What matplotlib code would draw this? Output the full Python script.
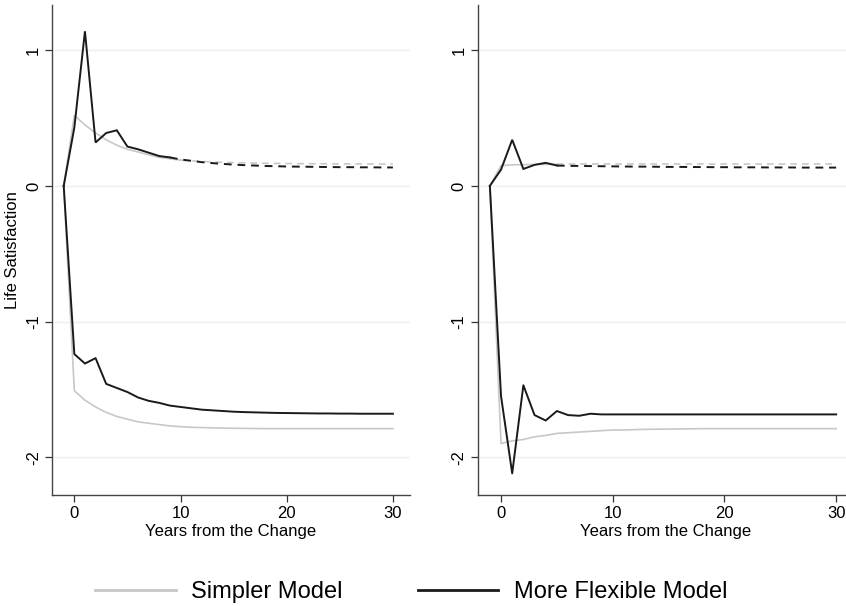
import matplotlib
matplotlib.use('Agg')
import matplotlib.pyplot as plt
from matplotlib.lines import Line2D

plt.rcParams['font.family'] = ['Liberation Sans Narrow', 'Liberation Sans', 'DejaVu Sans']

GRAY = '#c8c8c8'
BLACK = '#1a1a1a'

# ---------------------------------------------------------------------------
# Data
# ---------------------------------------------------------------------------
years = list(range(-1, 31))

# left panel
left_top_simple = [0, 0.52, 0.45, 0.39, 0.34, 0.30, 0.27, 0.25, 0.23, 0.21, 0.20, 0.19,
                   0.185, 0.18, 0.177, 0.174, 0.172, 0.170, 0.168, 0.167, 0.166, 0.165,
                   0.164, 0.164, 0.163, 0.163, 0.162, 0.162, 0.162, 0.161, 0.161, 0.161]
left_top_flex = [0, 0.43, 1.14, 0.32, 0.39, 0.41, 0.29, 0.27, 0.245, 0.22, 0.21, 0.195,
                 0.185, 0.175, 0.168, 0.162, 0.157, 0.153, 0.150, 0.147, 0.145, 0.143,
                 0.142, 0.141, 0.140, 0.139, 0.138, 0.138, 0.137, 0.137, 0.136, 0.136]
left_bot_simple = [0, -1.51, -1.58, -1.63, -1.67, -1.70, -1.72, -1.74, -1.75, -1.76, -1.77,
                   -1.775, -1.78, -1.782, -1.784, -1.786, -1.787, -1.788, -1.789, -1.79,
                   -1.79, -1.79, -1.79, -1.79, -1.79, -1.79, -1.79, -1.79, -1.79, -1.79,
                   -1.79, -1.79]
left_bot_flex = [0, -1.24, -1.31, -1.27, -1.46, -1.49, -1.52, -1.56, -1.585, -1.60, -1.62,
                 -1.63, -1.64, -1.65, -1.655, -1.66, -1.665, -1.668, -1.67, -1.672, -1.674,
                 -1.675, -1.676, -1.677, -1.678, -1.678, -1.679, -1.679, -1.68, -1.68,
                 -1.68, -1.68]

# right panel
right_top_simple = [0, 0.15, 0.155, 0.157, 0.158, 0.159, 0.16, 0.16, 0.16, 0.16, 0.16, 0.16,
                    0.16, 0.16, 0.16, 0.16, 0.16, 0.16, 0.16, 0.16, 0.16, 0.16, 0.16, 0.16,
                    0.16, 0.16, 0.16, 0.16, 0.16, 0.16, 0.16, 0.16]
right_top_flex = [0, 0.12, 0.34, 0.125, 0.155, 0.17, 0.15, 0.148, 0.147, 0.146, 0.145,
                  0.144, 0.143, 0.142, 0.142, 0.141, 0.140, 0.140, 0.139, 0.139, 0.138,
                  0.138, 0.137, 0.137, 0.137, 0.136, 0.136, 0.136, 0.135, 0.135, 0.135, 0.135]
right_bot_simple = [0, -1.90, -1.88, -1.87, -1.85, -1.84, -1.825, -1.82, -1.815, -1.81,
                    -1.805, -1.80, -1.80, -1.797, -1.795, -1.794, -1.793, -1.792, -1.791,
                    -1.79, -1.79, -1.79, -1.79, -1.79, -1.79, -1.79, -1.79, -1.79, -1.79,
                    -1.79, -1.79, -1.79]
right_bot_flex = [0, -1.55, -2.12, -1.47, -1.69, -1.73, -1.66, -1.69, -1.695, -1.68, -1.685,
                  -1.685, -1.685, -1.685, -1.685, -1.685, -1.685, -1.685, -1.685, -1.685,
                  -1.685, -1.685, -1.685, -1.685, -1.685, -1.685, -1.685, -1.685, -1.685,
                  -1.685, -1.685, -1.685]

# year after which the upper paths are drawn dashed
left_flex_cut, left_simple_cut = 9, 10
right_flex_cut, right_simple_cut = 5, 5

x_ticks = [0, 10, 20, 30]
y_ticks = [-2, -1, 0, 1]


def split(xs, ys, cut):
    solid = [(x, y) for x, y in zip(xs, ys) if x <= cut]
    dashed = [(x, y) for x, y in zip(xs, ys) if x >= cut]
    return list(zip(*solid)), list(zip(*dashed))


def draw_upper(ax, ys, cut, color, lw):
    (sx, sy), (dx, dy) = split(years, ys, cut)
    ax.plot(sx, sy, color=color, lw=lw, solid_joinstyle='miter')
    ax.plot(dx, dy, color=color, lw=lw, ls=(0, (4, 3)))


def style(ax):
    ax.set_xlim(-2.1, 31.6)
    ax.set_ylim(-2.28, 1.335)
    ax.set_xticks(x_ticks)
    ax.set_yticks(y_ticks)
    ax.set_yticklabels([str(t) for t in y_ticks], rotation=90, va='center')
    ax.tick_params(labelsize=12, length=5, width=0.9, color='#333333', pad=3)
    for side in ('top', 'right'):
        ax.spines[side].set_visible(False)
    for side in ('left', 'bottom'):
        ax.spines[side].set_color('#444444')
        ax.spines[side].set_linewidth(1.0)
    ax.grid(True, axis='y', color='#eeeeee', lw=1.0)
    ax.set_axisbelow(True)
    ax.set_xlabel('Years from the Change', fontsize=12, labelpad=2)


fig = plt.figure(figsize=(8.46, 6.06), dpi=100)
ax1 = fig.add_axes([0.0615, 0.183, 0.423, 0.809])
ax2 = fig.add_axes([0.5645, 0.183, 0.445, 0.809])

# left
draw_upper(ax1, left_top_simple, left_simple_cut, GRAY, 1.2)
ax1.plot(years, left_bot_simple, color=GRAY, lw=1.2)
draw_upper(ax1, left_top_flex, left_flex_cut, BLACK, 1.4)
ax1.plot(years, left_bot_flex, color=BLACK, lw=1.4)
style(ax1)
ax1.set_ylabel('Life Satisfaction', fontsize=12, labelpad=4)

# right
draw_upper(ax2, right_top_simple, right_simple_cut, GRAY, 1.2)
ax2.plot(years, right_bot_simple, color=GRAY, lw=1.2)
draw_upper(ax2, right_top_flex, right_flex_cut, BLACK, 1.4)
ax2.plot(years, right_bot_flex, color=BLACK, lw=1.4)
style(ax2)

handles = [Line2D([], [], color=GRAY, lw=2), Line2D([], [], color=BLACK, lw=2)]
fig.legend(handles, ['Simpler Model', 'More Flexible Model'], loc='center',
           bbox_to_anchor=(0.486, 0.023), ncol=2, frameon=False, fontsize=17,
           handlelength=3.4, handletextpad=0.65, columnspacing=3.2)

fig.savefig('out.png', dpi=100)
